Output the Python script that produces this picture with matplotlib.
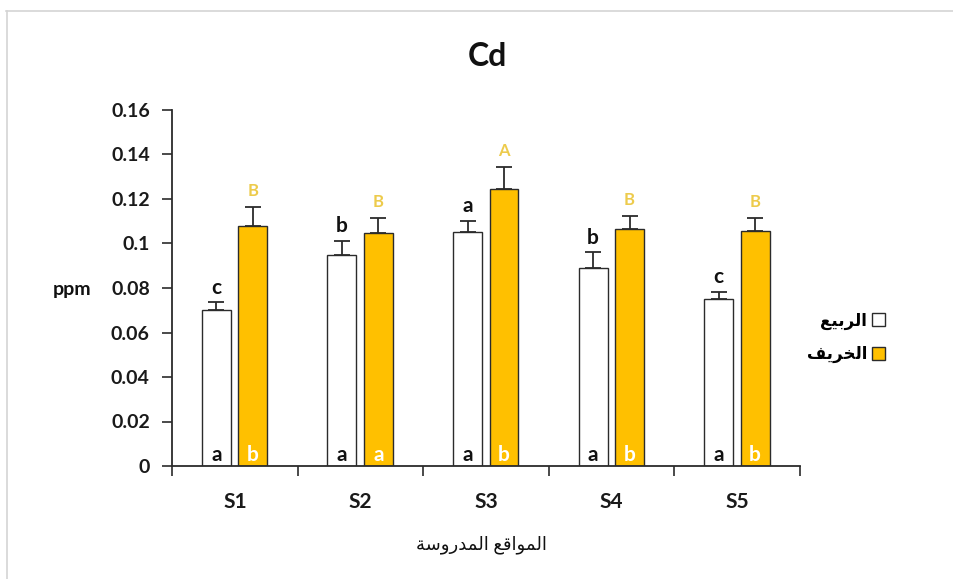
import matplotlib
matplotlib.use("Agg")

import matplotlib.pyplot as plt
import matplotlib.patches as mpatches
from matplotlib.lines import Line2D
import numpy as np

# Data Cd (ppm) per site, spring vs autumn
SITES = ["S1", "S2", "S3", "S4", "S5"]
SPRING = [0.070, 0.095, 0.105, 0.089, 0.075]
SPRING_ERR = [0.0035, 0.0063, 0.005, 0.007, 0.0034]
AUTUMN = [0.108, 0.1045, 0.1245, 0.1067, 0.1058]
AUTUMN_ERR = [0.0085, 0.007, 0.010, 0.0057, 0.0058]

# significance letters
SPRING_TOP = ["c", "b", "a", "b", "c"]
AUTUMN_TOP = ["B", "B", "A", "B", "B"]
SPRING_IN = ["a", "a", "a", "a", "a"]
AUTUMN_IN = ["b", "a", "b", "b", "b"]

# Arabic strings in presentation forms, visual order (no shaping engine in mpl)
LBL_SPRING = "\uFECA\uFEF4\uFE91\uFEAE\uFEDF\uFE8D"                 # الربيع
LBL_AUTUMN = "\uFED2\uFEF3\uFEAE\uFEA8\uFEDF\uFE8D"                 # الخريف
LBL_X = ("\uFE94\uFEB3\uFEED\uFEAD\uFEAA\uFEE4\uFEDF\uFE8D" + " " +
         "\uFECA\uFED7\uFE8D\uFEEE\uFEE4\uFEDF\uFE8D")              # المواقع المدروسة

ORANGE = "#FFC000"
GOLD_TXT = "#EDCB4C"
EDGE = "#2B2B2B"
FAM = ["Lato", "DejaVu Sans"]

plt.rcParams["font.family"] = FAM

fig = plt.figure(figsize=(9.54, 5.79), dpi=100)
ax = fig.add_axes([172 / 954, 113 / 579, 628 / 954, 356 / 579])

x = np.arange(len(SITES)) + 0.5
w = 0.23
xs = x - 0.147
xa = x + 0.143

ax.bar(xs, SPRING, w, color="white", edgecolor=EDGE, linewidth=1.0, zorder=2)
ax.bar(xa, AUTUMN, w, color=ORANGE, edgecolor=EDGE, linewidth=1.0, zorder=2)

# upper-only error bars
err_kw = dict(fmt="none", ecolor=EDGE, elinewidth=1.3, capsize=5.5, capthick=1.3, zorder=3)
ax.errorbar(xs, SPRING, yerr=[np.zeros(5), SPRING_ERR], **err_kw)
ax.errorbar(xa, AUTUMN, yerr=[np.zeros(5), AUTUMN_ERR], **err_kw)

for i in range(len(SITES)):
    ax.text(xs[i], SPRING[i] + SPRING_ERR[i] + 0.0022, SPRING_TOP[i], ha="center", va="bottom",
            fontsize=15, fontweight="bold", color="#111111")
    ax.text(xa[i], AUTUMN[i] + AUTUMN_ERR[i] + 0.0035, AUTUMN_TOP[i], ha="center", va="bottom",
            fontsize=12, fontweight="bold", color=GOLD_TXT)
    ax.text(xs[i], 0.0006, SPRING_IN[i], ha="center", va="bottom",
            fontsize=15, fontweight="bold", color="#111111")
    ax.text(xa[i], 0.0006, AUTUMN_IN[i], ha="center", va="bottom",
            fontsize=15, fontweight="bold", color="white")

ax.set_xlim(0, 5)
ax.set_ylim(0, 0.16)
ax.set_yticks(np.arange(0, 0.161, 0.02))
ax.set_yticklabels(["0", "0.02", "0.04", "0.06", "0.08", "0.1", "0.12", "0.14", "0.16"])
ax.set_xticks(x)
ax.set_xticklabels(SITES)
ax.set_xticks(np.arange(0, 6), minor=True)
ax.tick_params(axis="x", which="major", length=0, pad=19, labelsize=15)
ax.tick_params(axis="x", which="minor", length=7, width=1.2, direction="out", color=EDGE)
ax.tick_params(axis="y", length=7, width=1.2, direction="out", color=EDGE, labelsize=14, pad=9)
for lab in ax.get_xticklabels() + ax.get_yticklabels():
    lab.set_fontweight("bold")
    lab.set_color("#1A1A1A")

for s in ["top", "right"]:
    ax.spines[s].set_visible(False)
for s in ["left", "bottom"]:
    ax.spines[s].set_linewidth(1.3)
    ax.spines[s].set_color(EDGE)

fig.text(487 / 954, 1 - 57 / 579, "Cd", ha="center", va="center",
         fontsize=23, fontweight="bold", color="#111111")
fig.text(72 / 954, 1 - 289 / 579, "ppm", ha="center", va="center",
         fontsize=14, fontweight="bold", color="#111111")
fig.text(481 / 954, 1 - 545 / 579, LBL_X, ha="center", va="center",
         fontsize=13, family=FAM, color="#111111")

handles = [mpatches.Patch(facecolor="white", edgecolor=EDGE, linewidth=1.0),
           mpatches.Patch(facecolor=ORANGE, edgecolor=EDGE, linewidth=1.0)]
fig.legend(handles, [LBL_SPRING, LBL_AUTUMN], loc="center",
           bbox_to_anchor=(846 / 954, 1 - 338 / 579), frameon=False,
           markerfirst=False, handlelength=0.8, handleheight=0.8,
           handletextpad=0.3, labelspacing=1.0, prop={"size": 12, "weight": "bold", "family": FAM})

# thin frame lines round the chart area
fig.add_artist(Line2D([6 / 954, 1], [1 - 11 / 579, 1 - 11 / 579], color="#D4D4D4", linewidth=1.2))
fig.add_artist(Line2D([7 / 954, 7 / 954], [0, 1 - 11 / 579], color="#D4D4D4", linewidth=1.2))

fig.savefig("out.png", dpi=100)
plt.close(fig)
